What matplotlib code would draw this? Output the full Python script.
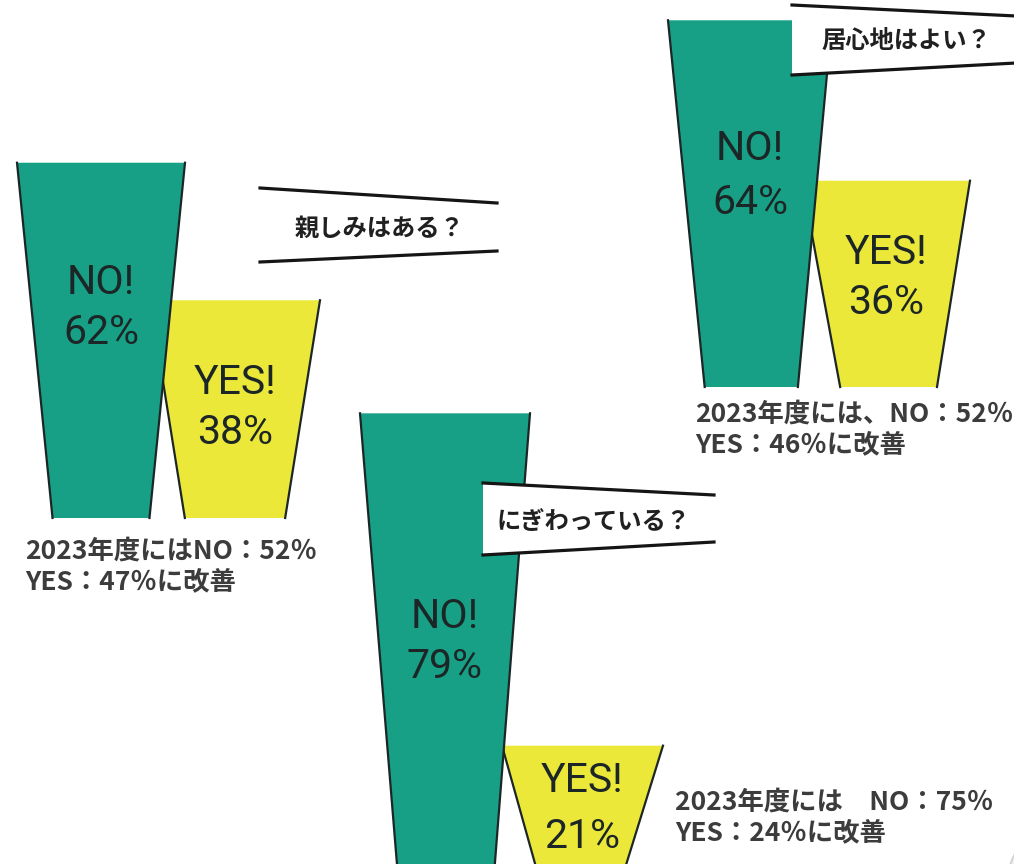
import matplotlib.pyplot as plt
from matplotlib.patches import Polygon, Circle

# survey results (percent)
questions = ['親しみはある？', '居心地はよい？', 'にぎわっている？']
no_vals = [62, 64, 79]
yes_vals = [38, 36, 21]
notes = [['2023年度にはNO：52％', 'YES：47％に改善'],
         ['2023年度には、NO：52％', 'YES：46％に改善'],
         ['2023年度には　NO：75％', 'YES：24％に改善']]

TEAL = '#17a085'
YELLOW = '#ebe83a'
INK = '#1c2626'
NOTE = '#3c3c3c'
JP = ['Noto Sans CJK JP', 'DejaVu Sans']
LAT = ['Roboto', 'DejaVu Sans']
SCALE = 5.73  # px per percent

# per panel layout: baseline, bar tops (left x, right x), side slopes
panels = [
    dict(base=518,
         no=(17, 185, 0.10, -0.10), yes=(150, 320, 0.16, -0.16),
         no_txt=(282, 333), yes_txt=(383, 432),
         box=[(260, 188), (497, 203), (497, 251), (260, 262)], box_fill=False,
         q_xy=(380, 229), note_xy=(25, 551)),
    dict(base=387,
         no=(668, 832, 0.10, -0.093), yes=(802, 970, 0.185, -0.16),
         no_txt=(148, 203), yes_txt=(253, 303),
         box=[(792, 5), (1016, 16), (1016, 63), (792, 75)], box_fill=True,
         q_xy=(906, 41), note_xy=(695, 414)),
    dict(base=866,
         no=(360, 530, 0.082, -0.078), yes=(502, 663, 0.28, -0.31),
         no_txt=(617, 667), yes_txt=(780, 836),
         box=[(483, 483), (714, 495), (714, 542), (483, 555)], box_fill=True,
         q_xy=(594, 522), note_xy=(675, 802)),
]

fig = plt.figure(figsize=(10.14, 8.64), dpi=100)
ax = fig.add_axes([0, 0, 1, 1])
ax.set_xlim(0, 1014)
ax.set_ylim(864, 0)
ax.axis('off')


def trap(geo, val, base, color, z):
    xl, xr, sl, sr = geo
    top = base - val * SCALE
    h = base - top
    pts = [(xl, top), (xr, top), (xr + sr * h, base), (xl + sl * h, base)]
    ax.add_patch(Polygon(pts, closed=True, facecolor=color, edgecolor='none', zorder=z))
    ax.plot([xl, xl + sl * h], [top, base], color=INK, lw=1.6, zorder=z + 0.1)
    ax.plot([xr, xr + sr * h], [top, base], color=INK, lw=1.6, zorder=z + 0.1)
    return (xl + xr) / 2


def big(x, y, s):
    ax.text(x, y, s, ha='center', va='center', fontsize=29.5,
            family=LAT, color=INK, zorder=6)


for i, p in enumerate(panels):
    cy = trap(p['yes'], yes_vals[i], p['base'], YELLOW, 2)
    cn = trap(p['no'], no_vals[i], p['base'], TEAL, 3)

    big(cn, p['no_txt'][0], 'NO!')
    big(cn, p['no_txt'][1], f'{no_vals[i]}%')
    big(cy, p['yes_txt'][0], 'YES!')
    big(cy, p['yes_txt'][1], f'{yes_vals[i]}%')

    # question banner
    b = p['box']
    if p['box_fill']:
        ax.add_patch(Polygon(b, closed=True, facecolor='white', edgecolor='none', zorder=7))
    ax.plot([b[0][0], b[1][0]], [b[0][1], b[1][1]], color='#151515', lw=2.3, zorder=8)
    ax.plot([b[3][0], b[2][0]], [b[3][1], b[2][1]], color='#151515', lw=2.3, zorder=8)
    ax.text(*p['q_xy'], questions[i], ha='center', va='center', fontsize=17.5,
            fontweight='bold', family=JP, color='#202020', zorder=9)

    # 2023 follow-up note
    nx, ny = p['note_xy']
    for k, line in enumerate(notes[i]):
        ax.text(nx, ny + k * 31, line, ha='left', va='center', fontsize=19,
                fontweight='bold', family=JP, color=NOTE, zorder=9)

# corner button edge
ax.add_patch(Circle((1060, 880), 52, facecolor='#f2f2f2', edgecolor='#d4d4d4', lw=1.5, zorder=1))

fig.savefig('out.png', dpi=100)
